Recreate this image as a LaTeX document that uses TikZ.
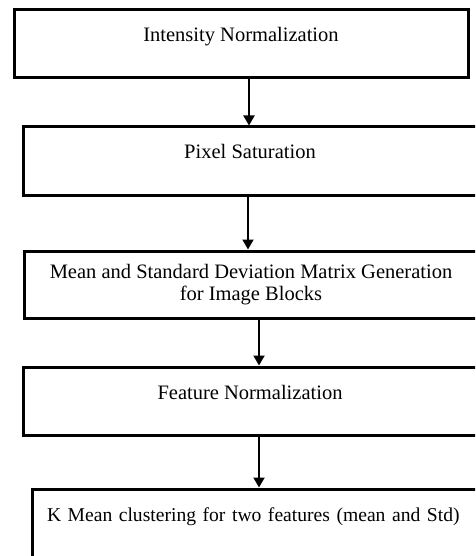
\documentclass[tikz,border=0pt]{standalone}
\usepackage{fontspec}
\setmainfont{Liberation Serif}
\usetikzlibrary{arrows.meta, positioning}

\begin{document}
\begin{tikzpicture}[
        x=1pt, y=-1pt,
        >={Triangle[width=11pt, length=10pt]},
        stepbox/.style={draw, line width=3pt, inner sep=0pt, minimum height=68pt,
            font=\fontsize{20.5}{22.5}\selectfont},
        oneline/.style={text height=32pt, text depth=36pt},
        flow/.style={->, line width=2pt}
    ]

    % === CANVAS ===
    \useasboundingbox (0,0) rectangle (475,556);
    \clip (0,0) rectangle (475,556);

    % === 1. PROCESSING STEPS ===
    \node[stepbox, oneline, minimum width=454pt] (intensity) at (241,44) {Intensity Normalization};
    \node[stepbox, oneline, minimum width=454pt] (saturation) at (250,161) {Pixel Saturation};
    \node[stepbox, minimum width=454pt, minimum height=67pt, align=center] (meanstd) at (251,284.5)
        {Mean and Standard Deviation Matrix Generation\\for Image Blocks};
    \node[stepbox, oneline, minimum width=454pt] (featnorm) at (250,401) {Feature Normalization};
    \node[stepbox, oneline, inner xsep=15pt, text width=445pt, align=left,
        font=\fontsize{19.6}{22.5}\selectfont] (kmeans) at (269.5,523)
        {K Mean clustering for two features (mean and Std)};

    % === 2. FLOW ARROWS ===
    \draw[flow] (intensity.south -| 249,0) -- (saturation.north -| 249,0);
    \draw[flow] (saturation.south -| 248,0) -- (meanstd.north -| 248,0);
    \draw[flow] (meanstd.south -| 259,0) -- (featnorm.north -| 259,0);
    \draw[flow] (featnorm.south -| 259,0) -- (kmeans.north -| 259,0);

\end{tikzpicture}
\end{document}
